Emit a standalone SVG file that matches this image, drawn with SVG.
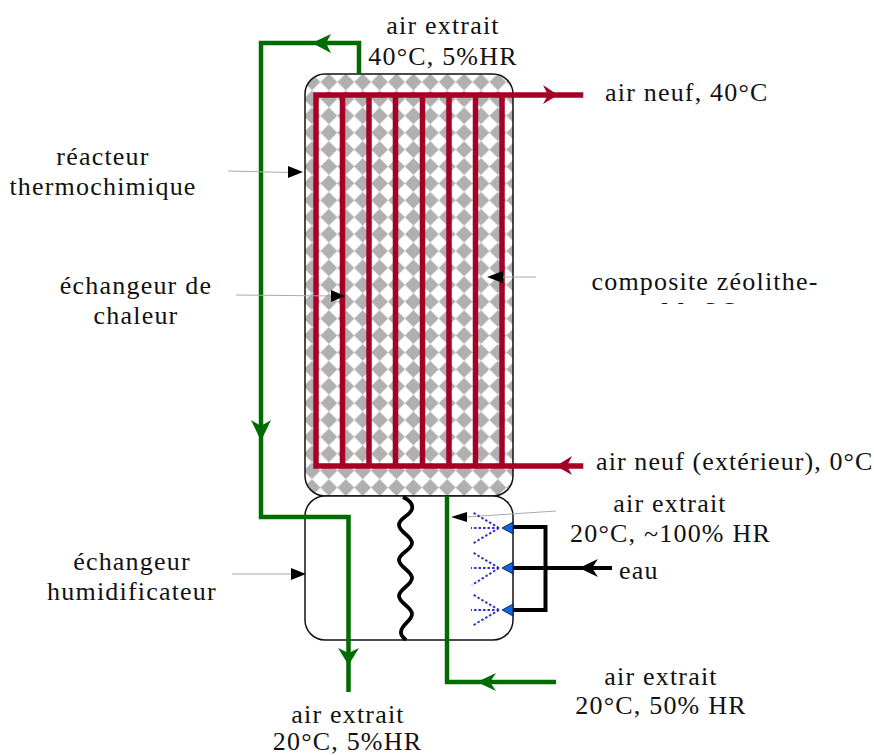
<svg xmlns="http://www.w3.org/2000/svg" width="874" height="755" viewBox="0 0 874 755">
<style>
text{font-family:"Liberation Serif","Times New Roman",serif;font-size:26px;fill:#111;letter-spacing:1.2px}
.g{fill:none;stroke:#006b00;stroke-width:4.5;stroke-linejoin:miter}
.r{fill:none;stroke:#a50026;stroke-width:5.5;stroke-linecap:square}
.k{fill:none;stroke:#000;stroke-width:4}
.l{fill:none;stroke:#aaa;stroke-width:1}
.b{fill:none;stroke:#3333cc;stroke-width:2;stroke-dasharray:2.500 2}
.box{stroke:#111;stroke-width:1.5}
</style>
<defs>
<filter id="soft" x="-20%" y="-20%" width="140%" height="140%"><feGaussianBlur stdDeviation="0.6"/></filter>
<pattern id="dots" width="16.9" height="16.9" patternUnits="userSpaceOnUse" x="303.55" y="73.55">
<rect width="16.9" height="16.9" fill="#fff"/>
<path d="M8.45 0L16.9 8.45L8.45 16.9L0 8.45Z" fill="#b0b0b0" filter="url(#soft)"/>
</pattern>
<clipPath id="cut"><rect x="560" y="296" width="300" height="8"/></clipPath>
</defs>
<g id="reacteur"><rect class="box" x="305" y="74" width="208" height="422" rx="20" fill="url(#dots)"/></g>
<g id="humidificateur"><path class="box" fill="#fff" d="M325 496H493A20 20 0 0 1 513 516V620A20 20 0 0 1 493 640H325A20 20 0 0 1 305 620V516A20 20 0 0 1 325 496Z"/>
<path d="M403 497C411 501 413 505 412 509C410 516 399 518 399 525C399 532 412 536 412 543C412 550 399 553 399 560C399 567 412 571 412 578C412 585 399 589 399 596C399 603 412 607 412 614C412 621 400 625 401 633C401 636 404 638 406 640" fill="none" stroke="#000" stroke-width="3.8"/></g>
<g id="echangeur">
<path class="r" d="M316 95H580.500M316 466H580.500M316 95V466M342.500 95V466M369 95V466M395.500 95V466M422.500 95V466M449 95V466M475.500 95V466M502 95V466"/>
<path d="M543 85L558 95L543 104L548 95Z" fill="#a50026"/><path d="M572 456L556 466L572 475L567 466Z" fill="#a50026"/>
</g>
<g id="connecteurs">
<path class="g" d="M359 74V43H261V517H348.500V692"/>
<path class="g" d="M447 496V682H556"/>
<path d="M331 34L312 43L331 53L326 43Z" fill="#006b00"/>
<path d="M251 420L261 441L271 420L261 426Z" fill="#006b00"/>
<path d="M338 648L348.500 665L359 648L348.500 653Z" fill="#006b00"/>
<path d="M496 673L477 682L496 691L490 682Z" fill="#006b00"/>
<path class="k" d="M513 527H545.500V610H513"/>
<path class="k" d="M513 568H612"/>
<path d="M598 559L579 568L598 577L592 568Z" fill="#000"/>
<path class="l" d="M228 171L290 172.500M236 295L335 296M536 277L500 277M232 574L295 574M556 511L466 517"/>
<path d="M303 172L288 166V178Z M345 296L331 290V302Z M487 277L503 271V283Z M306 574L291 568V580Z M451 517L467 512V522Z" fill="#000"/>
</g>
<g id="buses">
<path class="b" d="M499 528H471M499 528L472 512M499 528L472 544M499 568H471M499 568L472 552M499 568L472 585M499 610H471M499 610L472 594M499 610L472 626"/>
<path d="M513 522L502 528L513 534Z M513 562L502 568L513 574Z M513 604L502 610L513 616Z" fill="#0a64e6" stroke="#111" stroke-width=".8"/>
</g>
<g id="textes">
<text x="443" y="34" text-anchor="middle">air extrait</text>
<text x="443" y="65" text-anchor="middle">40°C, 5%HR</text>
<text x="605" y="101">air neuf, 40°C</text>
<text x="103" y="165" text-anchor="middle">réacteur</text>
<text x="103" y="195" text-anchor="middle">thermochimique</text>
<text x="136" y="294" text-anchor="middle">échangeur de</text>
<text x="136" y="324" text-anchor="middle">chaleur</text>
<text x="705" y="290" text-anchor="middle">composite zéolithe-</text>
<text x="661" y="319.5" clip-path="url(#cut)">Mg<tspan dx="3">S</tspan><tspan dx="2">O</tspan></text>
<text x="596" y="470" style="letter-spacing:1.1px">air neuf (extérieur), 0°C</text>
<text x="670" y="512" text-anchor="middle">air extrait</text>
<text x="670.500" y="542" text-anchor="middle">20°C, ~100% HR</text>
<text x="619" y="579">eau</text>
<text x="132" y="570" text-anchor="middle">échangeur</text>
<text x="132" y="600" text-anchor="middle">humidificateur</text>
<text x="661" y="685" text-anchor="middle">air extrait</text>
<text x="661" y="714" text-anchor="middle">20°C, 50% HR</text>
<text x="348" y="723" text-anchor="middle">air extrait</text>
<text x="347.500" y="750" text-anchor="middle">20°C, 5%HR</text>
</g>
</svg>
